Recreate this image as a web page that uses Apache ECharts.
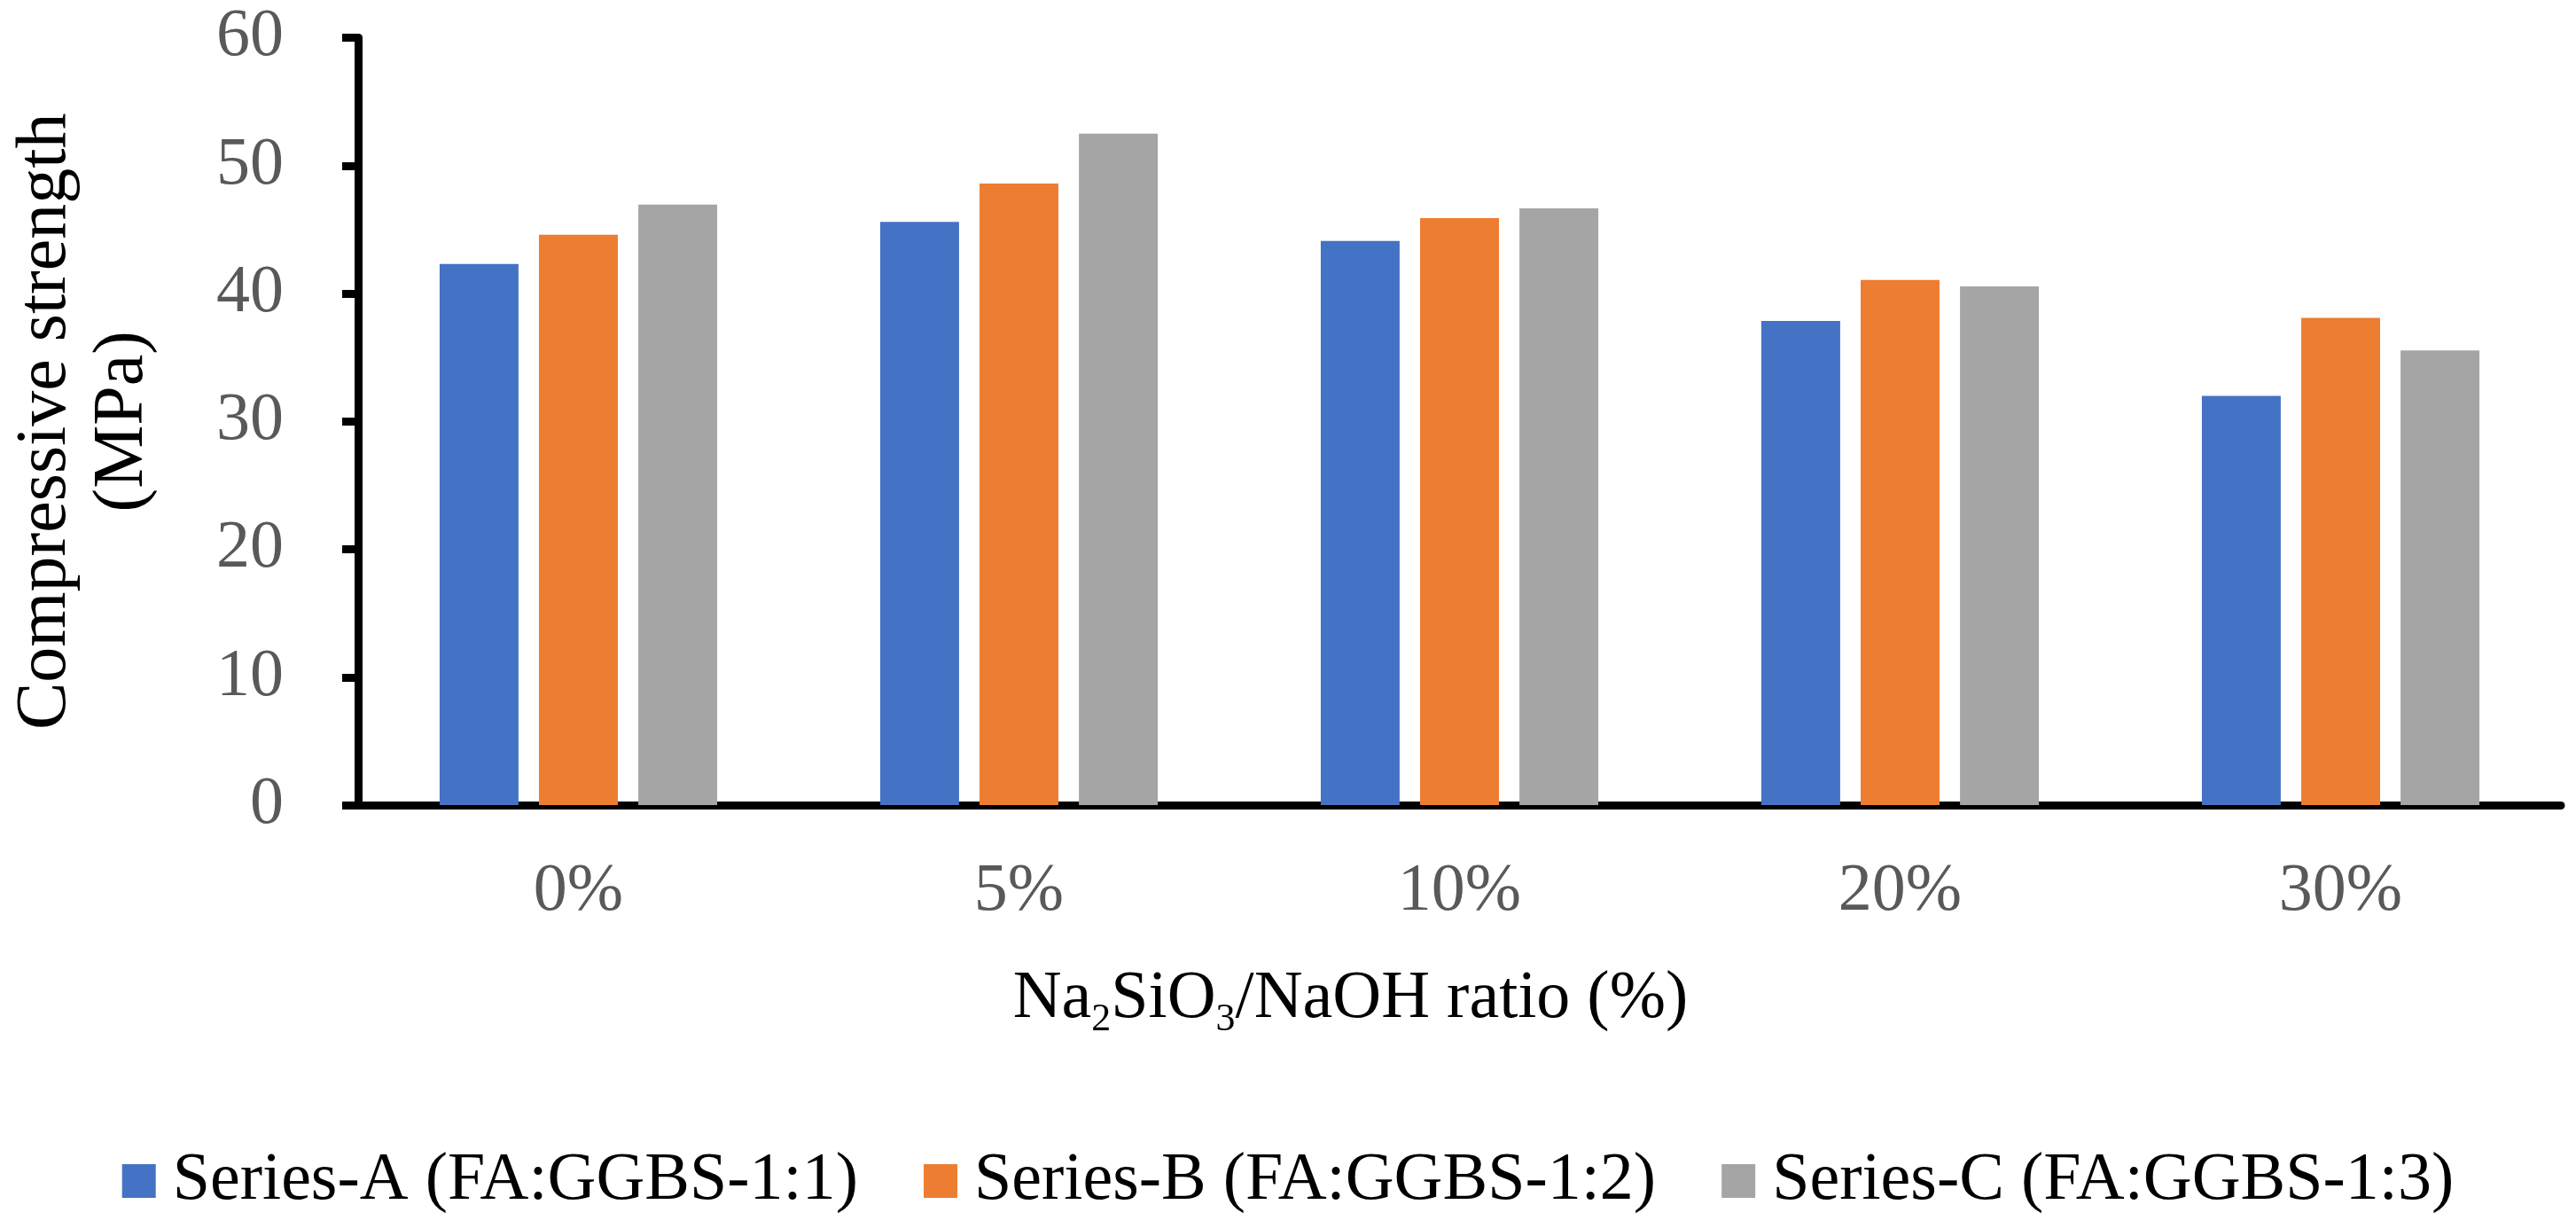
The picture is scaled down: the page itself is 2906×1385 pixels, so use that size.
<!DOCTYPE html>
<html>
<head>
<meta charset="utf-8">
<script src="https://cdn.jsdelivr.net/npm/echarts@6/dist/echarts.min.js"></script>
<style>
html,body{margin:0;padding:0;background:#fff;}
#chart{width:2906px;height:1385px;}
</style>
</head>
<body>
<div id="chart"></div>
<script>
const categories = ['0%', '5%', '10%', '20%', '30%'];
const seriesNames = ['Series-A (FA:GGBS-1:1)', 'Series-B (FA:GGBS-1:2)', 'Series-C (FA:GGBS-1:3)'];
const seriesA = [42.3, 45.6, 44.1, 37.85, 32.0];
const seriesB = [44.6, 48.6, 45.9, 41.05, 38.1];
const seriesC = [46.95, 52.5, 46.65, 40.55, 35.55];
const yTicks = [0, 10, 20, 30, 40, 50, 60];
const colors = ['#4472C4', '#ED7D31', '#A5A5A5'];

const FONT = '"Liberation Serif", "Times New Roman", serif';
const chart = echarts.init(document.getElementById('chart'));
const option = {
  backgroundColor: '#ffffff',
  animation: false,
  color: colors,
  textStyle: { fontFamily: FONT },
  grid: { left: 400, right: 17, top: 42.5, bottom: 477, containLabel: false },
  legend: {
    data: seriesNames,
    bottom: 10,
    left: 'center',
    icon: 'rect',
    itemWidth: 38,
    itemHeight: 38,
    itemGap: 74,
    textStyle: { fontFamily: FONT, fontSize: 76, color: '#000', padding: [0, 0, 0, 14] }
  },
  xAxis: {
    type: 'category',
    data: categories,
    name: '{m|Na}{s|2}{m|SiO}{s|3}{m|/NaOH ratio (%)}',
    nameLocation: 'middle',
    nameGap: 174,
    nameTextStyle: {
      padding: [0, 246, 0, 0],
      rich: {
        m: { fontFamily: FONT, fontSize: 76, color: '#000', lineHeight: 90 },
        s: { fontFamily: FONT, fontSize: 44, color: '#000', lineHeight: 44, verticalAlign: 'bottom' }
      }
    },
    axisLine: { lineStyle: { color: '#000', width: 9 } },
    axisTick: { show: false },
    axisLabel: { color: '#595959', fontFamily: FONT, fontSize: 76, margin: 60 },
    splitLine: { show: false }
  },
  yAxis: {
    type: 'value',
    min: yTicks[0],
    max: yTicks[yTicks.length - 1],
    interval: yTicks[1] - yTicks[0],
    name: 'Compressive strength\n(MPa)',
    nameLocation: 'middle',
    nameRotate: 90,
    nameGap: 222,
    nameTextStyle: { fontFamily: FONT, fontSize: 80, color: '#000', lineHeight: 87 },
    axisLine: { show: true, lineStyle: { color: '#000', width: 9 } },
    axisTick: { show: true, inside: false, length: 18, lineStyle: { color: '#000', width: 9 } },
    axisLabel: { color: '#595959', fontFamily: FONT, fontSize: 76, margin: 84 },
    splitLine: { show: false }
  },
  series: [
    { name: seriesNames[0], type: 'bar', data: seriesA, barGap: '26%', barCategoryGap: '37%' },
    { name: seriesNames[1], type: 'bar', data: seriesB, barGap: '26%', barCategoryGap: '37%' },
    { name: seriesNames[2], type: 'bar', data: seriesC, barGap: '26%', barCategoryGap: '37%' }
  ]
};
chart.setOption(option);
</script>
</body>
</html>
